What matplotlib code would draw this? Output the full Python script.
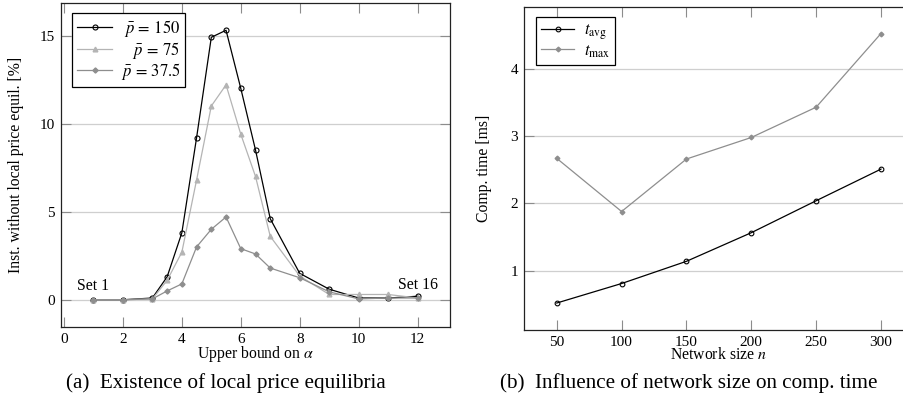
import matplotlib
matplotlib.use("Agg")
import matplotlib.pyplot as plt

plt.rcParams['font.family'] = ['Liberation Serif', 'DejaVu Serif']
plt.rcParams['mathtext.fontset'] = 'stix'

# (a) share of instances without a local price equilibrium [%]
alpha_bound = [1, 2, 3, 3.5, 4, 4.5, 5, 5.5, 6, 6.5, 7, 8, 9, 10, 11, 12]
share_p150 = [0, 0, 0.1, 1.3, 3.8, 9.2, 14.9, 15.3, 12.0, 8.5, 4.6, 1.5, 0.6, 0.1, 0.1, 0.2]
share_p75 = [0, 0, 0.05, 1.1, 2.7, 6.8, 11.0, 12.2, 9.4, 7.0, 3.6, 1.35, 0.3, 0.3, 0.3, 0.1]
share_p37 = [0, 0, 0.05, 0.5, 0.9, 3.0, 4.0, 4.7, 2.9, 2.6, 1.8, 1.25, 0.45, 0.05, 0.1, 0.1]
alpha_ticks = [0, 2, 4, 6, 8, 10, 12]
share_ticks = [0, 5, 10, 15]

# (b) computation time [ms] against network size
network_size = [50, 100, 150, 200, 250, 300]
t_avg = [0.52, 0.81, 1.14, 1.565, 2.04, 2.51]
t_max = [2.67, 1.88, 2.66, 2.98, 3.43, 4.525]
time_ticks = [1, 2, 3, 4]

TICK_FS = 11
LABEL_FS = 11.3
LEGEND_FS = 12
CAPTION_FS = 15.2

fig = plt.figure(figsize=(9.04, 3.98), dpi=100)
ax1 = fig.add_axes([0.0675, 0.1791, 0.4303, 0.8126])
ax2 = fig.add_axes([0.580, 0.1709, 0.4304, 0.8126])


def style(ax):
    ax.tick_params(direction='in', length=7, width=0.8, color='#8c8c8c',
                   top=True, right=True, labelsize=TICK_FS, pad=4.5)
    for s in ax.spines.values():
        s.set_linewidth(0.9)
        s.set_color('#222222')
    ax.grid(axis='y', color='#cfcfcf', linewidth=0.9)
    ax.set_axisbelow(True)
    ax.margins(x=0.1, y=0.1)


def legend(ax, anchor, handle_len, textpad, spacing):
    leg = ax.legend(loc='upper left', bbox_to_anchor=anchor, borderaxespad=0,
                    fontsize=LEGEND_FS, frameon=True, fancybox=False,
                    edgecolor='black', framealpha=1, handlelength=handle_len,
                    handletextpad=textpad, labelspacing=spacing, borderpad=0.3)
    leg.get_frame().set_linewidth(0.9)
    return leg


# ---- left panel ----
style(ax1)
ax1.plot(alpha_bound, share_p150, color='black', lw=0.9, marker='o', ms=3.6,
         mfc='none', mec='black', mew=0.8,
         label=r'$\hspace{0.35}\bar{p}\,=\,150$')
ax1.plot(alpha_bound, share_p75, color='#b4b4b4', lw=0.9, marker='^', ms=3.4,
         mfc='#b4b4b4', mec='#b4b4b4',
         label=r'$\hspace{1.04}\bar{p}\,=\,75$')
ax1.plot(alpha_bound, share_p37, color='#8e8e8e', lw=0.9, marker='D', ms=2.6,
         mfc='#8e8e8e', mec='#8e8e8e',
         label=r'$\bar{p}\,=\,37.5$')
ax1.set_xticks(alpha_ticks)
ax1.set_yticks(share_ticks)
ax1.set_xlabel(r'Upper bound on $\alpha$', fontsize=LABEL_FS)
ax1.set_ylabel('Inst. without local price equil. [%]', fontsize=LABEL_FS)
ax1.xaxis.set_label_coords(0.5, -0.054)
ax1.yaxis.set_label_coords(-0.096, 0.5)
ax1.annotate('Set 1', xy=(alpha_bound[0], share_p150[0]), xytext=(0, 4),
             textcoords='offset points', ha='center', va='bottom',
             fontsize=LABEL_FS)
ax1.annotate('Set 16', xy=(alpha_bound[-1], share_p150[-1]), xytext=(0, 2),
             textcoords='offset points', ha='center', va='bottom',
             fontsize=LABEL_FS)
legend(ax1, (0.029, 0.969), 2.1, 0.5, 0.02)

# ---- right panel ----
style(ax2)
ax2.plot(network_size, t_avg, color='black', lw=0.9, marker='o', ms=3.4,
         mfc='none', mec='black', mew=0.8, label=r'$t_{\mathrm{avg}}$')
ax2.plot(network_size, t_max, color='#8e8e8e', lw=0.9, marker='D', ms=2.4,
         mfc='#8e8e8e', mec='#8e8e8e', label=r'$t_{\mathrm{max}}$')
ax2.set_xticks(network_size)
ax2.set_yticks(time_ticks)
ax2.set_xlabel(r'Network size $n$', fontsize=LABEL_FS)
ax2.set_ylabel('Comp. time [ms]', fontsize=LABEL_FS)
ax2.xaxis.set_label_coords(0.5, -0.054)
ax2.yaxis.set_label_coords(-0.084, 0.5)
legend(ax2, (0.031, 0.967), 1.95, 0.6, 0.08)

# ---- sub-captions ----
fig.text(226 / 904, 1 - 383 / 398, '(a)  Existence of local price equilibria',
         ha='center', va='center', fontsize=CAPTION_FS)
fig.text(689 / 904, 1 - 383 / 398, '(b)  Influence of network size on comp. time',
         ha='center', va='center', fontsize=CAPTION_FS)

fig.savefig('out.png', dpi=100)
